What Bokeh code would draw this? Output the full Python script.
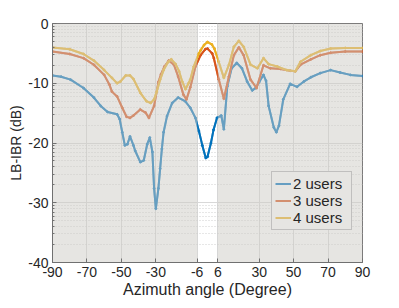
import math
from bokeh.plotting import figure
from bokeh.models import FixedTicker, Range1d, Legend, LegendItem
from bokeh.embed import file_html
from bokeh.resources import INLINE

# ---- data ----
angle_2u = [-90, -85, -79.5, -72, -66, -62, -58, -52.5, -51, -49.5,
            -48, -46.5, -45, -43, -42, -39, -37, -35, -33.5, -32,
            -31, -30, -28.5, -27.5, -26.5, -25.5, -23.5, -20.5, -17, -13,
            -10, -7, -5, -3, -1, 0, 2, 3.5, 5.5, 8,
            9.5, 11.5, 14, 17, 20, 23, 26, 28, 30, 32.5,
            34, 35.5, 38.5, 40, 41.5, 44, 48, 52, 56, 60,
            65.5, 71.5, 77, 83, 90]
lbibr_2u = [-8.7, -8.9, -9.4, -10.8, -12.4, -13.8, -14.8, -15.2, -16.0, -18.2,
            -20.4, -20.2, -18.9, -20.4, -21.3, -23.2, -22.9, -20.2, -19.1, -21.5,
            -27.6, -31.0, -27.6, -24.3, -21.0, -18.2, -15.5, -13.3, -12.4, -13.0,
            -14.1, -15.8, -18.0, -20.4, -22.5, -22.3, -20.0, -17.8, -15.8, -15.4,
            -17.7, -10.5, -7.5, -6.6, -7.5, -9.7, -11.2, -10.8, -9.8, -8.6,
            -9.6, -13.8, -17.4, -18.2, -17.1, -12.7, -10.1, -10.6, -9.7, -9.0,
            -8.3, -7.8, -8.2, -8.6, -8.8]

angle_3u = [-90, -80, -72, -66, -60, -57, -55.5, -52.5, -49.5, -47,
            -45, -43, -39, -36, -34, -31, -28.5, -27, -25, -22.5,
            -19.5, -17, -14, -12.2, -10, -7, -4, -1.2, 0, 2.7,
            3.7, 6.6, 9.5, 12.4, 15.3, 18.2, 21, 25, 28.5, 32.5,
            36.5, 42.5, 48, 51, 54, 60, 65.5, 71.5, 80, 90]
lbibr_3u = [-4.7, -5.1, -5.8, -6.9, -8.6, -10.2, -11.4, -12.2, -14.1, -15.6,
            -15.8, -15.4, -14.4, -14.9, -15.8, -13.8, -9.8, -8.5, -7.2, -6.2,
            -6.9, -8.9, -11.9, -12.7, -10.7, -7.2, -5.3, -4.3, -4.2, -5.0,
            -5.8, -9.4, -12.6, -8.9, -5.3, -4.0, -5.3, -9.4, -10.8, -7.0,
            -7.5, -7.6, -7.9, -8.0, -6.9, -6.0, -5.3, -4.9, -4.7, -4.7]

angle_4u = [-90, -80, -72, -66, -60, -55.5, -52.5, -50.5, -47.5, -45,
            -43, -39, -35.5, -33, -31, -29.5, -27.5, -25.5, -23, -21,
            -18.5, -16.5, -14.7, -12.8, -11, -10, -8, -5, -4, -2,
            0, 2.5, 4, 6.5, 9.5, 12.5, 15.3, 18.2, 21, 25,
            29, 32.5, 35.5, 40.5, 46, 51, 54, 60, 65.5, 71.5,
            80, 90]
lbibr_4u = [-4.0, -4.3, -5.1, -6.2, -7.8, -9.1, -10.0, -9.7, -8.7, -8.7,
            -9.3, -11.6, -13.0, -13.3, -12.7, -11.4, -9.4, -7.8, -6.5, -6.0,
            -6.8, -8.0, -9.7, -11.0, -10.0, -9.4, -7.2, -5.0, -4.5, -3.6,
            -3.1, -3.5, -4.2, -6.4, -9.1, -6.9, -3.9, -2.9, -3.9, -6.9,
            -7.5, -5.8, -6.8, -7.2, -7.8, -8.0, -6.4, -5.3, -4.6, -4.2,
            -4.1, -4.1]

series_labels = ["2 users", "3 users", "4 users"]
x_ticks = [-90, -70, -50, -30, -6, 6, 30, 50, 70, 90]
y_ticks = [-40, -30, -20, -10, 0]
shade_left = [-90, 6]
shade_right = [-6, 90]

# ---- styling ----
FONT = "Liberation Sans"
dark_cols = ["#0072BD", "#D95319", "#EDB120"]
light_cols = ["#669EC2", "#D38F6F", "#DDBE73"]
TXT = "#262626"
AX = "#707070"

p = figure(width=391, height=300, x_range=Range1d(-90, 90), y_range=Range1d(-40, 0),
           output_backend="svg", toolbar_location=None,
           min_border_left=52, min_border_right=29, min_border_top=23, min_border_bottom=35,
           background_fill_color="white", border_fill_color="white")
p.outline_line_color = AX
p.outline_line_width = 1

minor_y = []
for top in [0, -10, -20, -30]:
    for k in range(2, 10):
        minor_y.append(top - 10 + 10 * math.log10(k))

p.xaxis.ticker = FixedTicker(ticks=x_ticks)
p.yaxis.ticker = FixedTicker(ticks=y_ticks, minor_ticks=minor_y)
p.xgrid.ticker = FixedTicker(ticks=x_ticks)
p.ygrid.ticker = FixedTicker(ticks=y_ticks, minor_ticks=minor_y)
p.xgrid.grid_line_color = "#d8d8d8"
p.ygrid.grid_line_color = "#d8d8d8"
p.ygrid.minor_grid_line_color = "#cfcfcf"
p.ygrid.minor_grid_line_dash = "1 2"

p.xaxis.major_label_overrides = {t: str(t) for t in x_ticks}
p.yaxis.major_label_overrides = {t: str(t) for t in y_ticks}

for ax in (p.xaxis[0], p.yaxis[0]):
    ax.major_label_text_font = FONT
    ax.major_label_text_font_size = "14px"
    ax.major_label_text_color = TXT
    ax.axis_label_text_font = FONT
    ax.axis_label_text_font_style = "normal"
    ax.axis_label_text_color = TXT
    ax.axis_line_color = AX
    ax.major_tick_line_color = AX
    ax.minor_tick_line_color = AX
    ax.major_tick_in = 4
    ax.major_tick_out = 0
    ax.minor_tick_in = 2
    ax.minor_tick_out = 0
    ax.major_label_standoff = 4
    ax.axis_label_standoff = 1

p.xaxis.axis_label = "Azimuth angle (Degree)"
p.xaxis.axis_label_text_font_size = "16px"
p.yaxis.axis_label = "LB-IBR (dB)"
p.yaxis.axis_label_text_font_size = "14px"
p.xaxis.minor_tick_line_color = None

data = [(angle_2u, lbibr_2u), (angle_3u, lbibr_3u), (angle_4u, lbibr_4u)]
items = []
for (xs, ys), dcol, lcol, lab in zip(data, dark_cols, light_cols, series_labels):
    # light copy (used as legend glyph), hidden beneath the dark line
    lr = p.line(xs, ys, line_color=lcol, line_width=2)
    p.line(xs, ys, line_color=dcol, line_width=2)
    p.scatter(xs, ys, size=2, color=dcol, marker="circle")
    items.append(LegendItem(label=lab, renderers=[lr]))

# translucent grey shading outside the -6..6 window
p.quad(left=shade_left, right=shade_right, bottom=[-40, -40], top=[0, 0],
       fill_color="#cdcbc6", fill_alpha=0.5, line_color=None)

legend = Legend(items=items, location=(219, 32), label_text_font=FONT,
                label_text_font_size="15px", label_text_color=TXT,
                background_fill_color="#e6e5e2", background_fill_alpha=1.0,
                border_line_color="#9a9a9a", border_line_width=1,
                padding=3, spacing=0, margin=0, label_standoff=2,
                glyph_width=16, glyph_height=17, label_height=17, label_width=55)
p.add_layout(legend)

open("out.html", "w").write(file_html(p, INLINE))
